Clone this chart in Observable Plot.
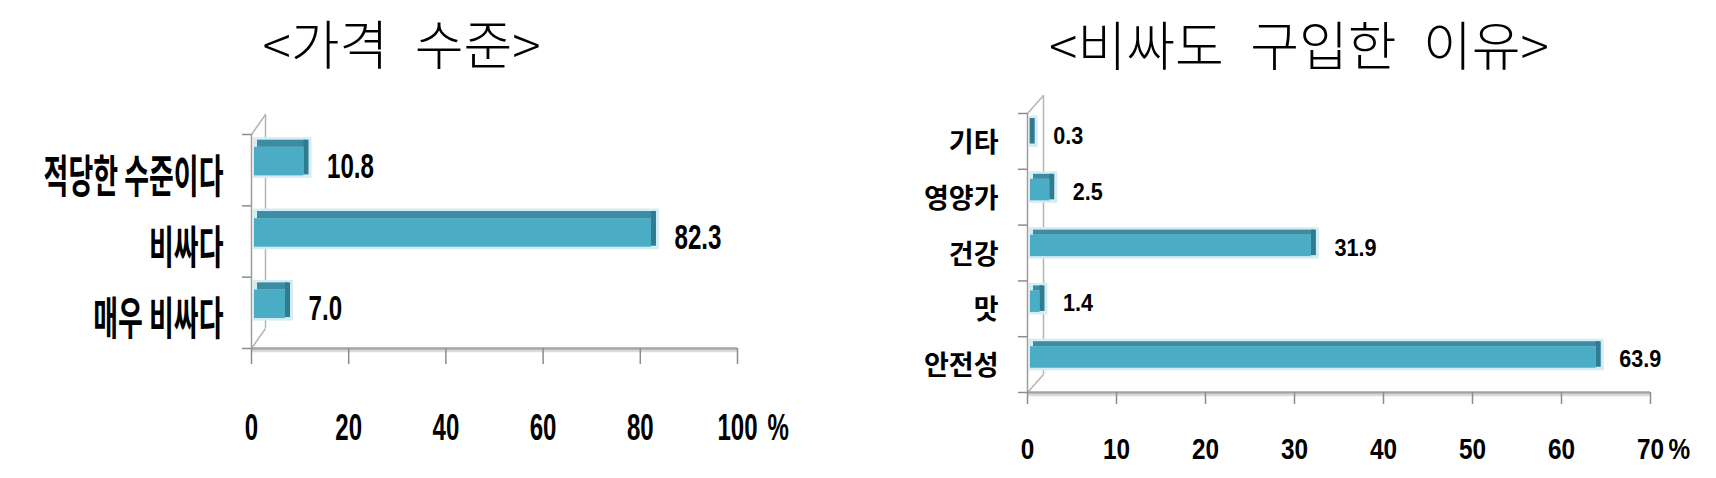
<!DOCTYPE html>
<html><head><meta charset="utf-8">
<script src="https://cdn.jsdelivr.net/npm/d3@7"></script>
<script src="https://cdn.jsdelivr.net/npm/@observablehq/plot@0.6"></script>
<style>
html,body{margin:0;padding:0;background:#fff;}
#wrap{display:flex;width:1716px;height:478px;overflow:hidden;}
#wrap svg{display:block;flex:none;}
</style></head><body><div id="wrap"></div>
<script>
// ---- data ----
const leftTitle = "<가격\u2002수준>";
const leftCategories = ["적당한 수준이다", "비싸다", "매우 비싸다"];
const leftValues = [10.8, 82.3, 7.0];
const leftTicks = [0, 20, 40, 60, 80, 100];

const rightTitle = "<비싸도\u2002구입한\u2002이유>";
const rightCategories = ["기타", "영양가", "건강", "맛", "안전성"];
const rightValues = [0.3, 2.5, 31.9, 1.4, 63.9];
const rightTicks = [0, 10, 20, 30, 40, 50, 60, 70];

const unitLabel = "%";

const fontCJK = "'Noto Sans CJK KR', 'Noto Sans', sans-serif";
const fontNum = "'Liberation Sans', Arial, sans-serif";

function condense(svg, label, s) {
  svg.querySelectorAll(`g[aria-label="${label}"] text, g[aria-description="${label}"] text, text[aria-label="${label}"]`).forEach(t => {
    const tr = t.getAttribute("transform") || "";
    t.setAttribute("transform", tr + ` scale(${s},1)`);
  });
}

function chart(c) {
  const n = c.cats.length;
  const xmax = c.ticks[c.ticks.length - 1];
  const rows = c.cats.map((cat, i) => ({cat, i, v: c.vals[i]}));
  const plotW = c.width - c.ml - c.mr, plotH = c.height - c.mt - c.mb;
  const dX = c.wallDX * xmax / plotW, dY = c.wallDY * n / plotH;
  const yt = -0.5, yb = n - 0.5;
  const bounds = d3.range(n + 1).map(k => k - 0.5);
  const top = d => d.i + c.barTop, bot = d => d.i + c.barBottom;
  const svg = Plot.plot({
    width: c.width, height: c.height,
    marginLeft: c.ml, marginRight: c.mr, marginTop: c.mt, marginBottom: c.mb,
    x: {domain: [0, xmax], label: null},
    y: {domain: [yt, yb], reverse: true, label: null},
    style: {background: "#fff", overflow: "visible"},
    marks: [
      // 3D wall
      Plot.ruleX([0], {y1: yt, y2: yb, dx: c.wallDX, dy: -c.wallDY, stroke: "#b5b5b5", strokeWidth: 1.5}),
      Plot.link([yt, yb], {x1: 0, x2: dX, y1: d => d, y2: d => d - dY, stroke: "#b5b5b5", strokeWidth: 1.5}),
      Plot.ruleX([0], {y1: yt, y2: yb, stroke: "#9c9c9c", strokeWidth: 1.5}),
      Plot.axisY({ticks: bounds, tickSize: c.yTickSize, tickFormat: () => "", label: null, stroke: "#8c8c8c", strokeWidth: 1.5}),
      // floor / x axis
      Plot.ruleY([yb], {x1: 0, x2: xmax, dy: 2.5, stroke: "#dadada", strokeWidth: 2.5}),
      Plot.ruleY([yb], {x1: 0, x2: xmax, stroke: "#a3a3a3", strokeWidth: 2.5}),
      Plot.axisX({ticks: c.ticks, tickSize: c.tickSize, tickFormat: () => "", label: null, stroke: "#8c8c8c", strokeWidth: 1.5}),
      Plot.axisX({ticks: c.ticks, tickSize: 0, tickPadding: c.tickPad, tickFormat: d => String(d), label: null,
        fontSize: c.tickFont, fontWeight: "bold", fontFamily: fontNum, fill: "#000"}),
      Plot.text([unitLabel], {x: xmax, frameAnchor: "bottom", dx: c.pctDx, dy: c.tickPad, textAnchor: "start",
        lineAnchor: "top", fontSize: c.tickFont, fontWeight: "bold", fontFamily: fontNum, fill: "#000",
        ariaLabel: () => "unit label", ariaDescription: "unit label"}),
      // bars (3D look)
      Plot.rect(rows, {x1: 0, x2: "v", y1: top, y2: bot, insetTop: -2.5, insetBottom: -2.5, insetRight: -8, insetLeft: 2, fill: "#d4ecf3"}),
      Plot.rect(rows, {x1: 0, x2: "v", y1: d => top(d) + c.face, y2: bot, insetLeft: 3, fill: "#4bacc6"}),
      Plot.rect(rows, {x1: 0, x2: "v", y1: top, y2: d => top(d) + c.face, insetLeft: 6, insetRight: -3, fill: "#3c8da3"}),
      Plot.rect(rows, {x1: "v", x2: "v", y1: top, y2: bot, insetRight: -c.side, insetBottom: 1, fill: "#2f7b90"}),
      Plot.text(rows, {x: "v", y: "i", text: d => d.v.toFixed(1), dx: c.valDx, dy: c.valDy, textAnchor: "start",
        fontSize: c.valFont, fontWeight: "bold", fontFamily: fontNum, fill: "#000",
        ariaLabel: () => "value label", ariaDescription: "value label"}),
      // category labels
      Plot.axisY({ticks: d3.range(n), tickSize: 0, tickPadding: c.catPad, tickFormat: i => c.cats[i], dy: c.catDy, label: null,
        fontSize: c.catFont, fontWeight: "bold", fontFamily: fontCJK, fill: "#000"}),
      // title
      Plot.text([c.title], {frameAnchor: "top", dx: c.titleDx, dy: c.titleDy, lineAnchor: "middle",
        fontSize: c.titleSize, fontWeight: 300, fontFamily: fontCJK, fill: "#000"})
    ]
  });
  condense(svg, "y-axis tick label", c.catScale);
  condense(svg, "x-axis tick label", c.tickScale);
  condense(svg, "unit label", c.tickScale);
  condense(svg, "value label", c.valScale);
  return svg;
}

const wrap = document.getElementById("wrap");
wrap.appendChild(chart({
  title: leftTitle, cats: leftCategories, vals: leftValues, ticks: leftTicks,
  width: 858, height: 478, ml: 251, mr: 121, mt: 134, mb: 130,
  barTop: -0.42, barBottom: 0.08, face: 0.1, side: 5,
  catFont: 45, catScale: 0.6, catPad: 28, catDy: 8,
  valFont: 36, valScale: 0.67, valDx: 23, valDy: -4,
  tickFont: 37, tickScale: 0.65, tickSize: 16, tickPad: 65, pctDx: 30,
  wallDX: 14, wallDY: 20, yTickSize: 9,
  titleDx: -93, titleDy: -86, titleSize: 53
}));
wrap.appendChild(chart({
  title: rightTitle, cats: rightCategories, vals: rightValues, ticks: rightTicks,
  width: 858, height: 478, ml: 169, mr: 66, mt: 113, mb: 86,
  barTop: -0.41, barBottom: 0.065, face: 0.09, side: 5,
  catFont: 27, catScale: 1, catPad: 29, catDy: 2,
  valFont: 24, valScale: 0.9, valDx: 23, valDy: -5,
  tickFont: 29, tickScale: 0.84, tickSize: 12, tickPad: 46, pctDx: 18,
  wallDX: 16, wallDY: 18, yTickSize: 9,
  titleDx: -40, titleDy: -64, titleSize: 53
}));
</script></body></html>
